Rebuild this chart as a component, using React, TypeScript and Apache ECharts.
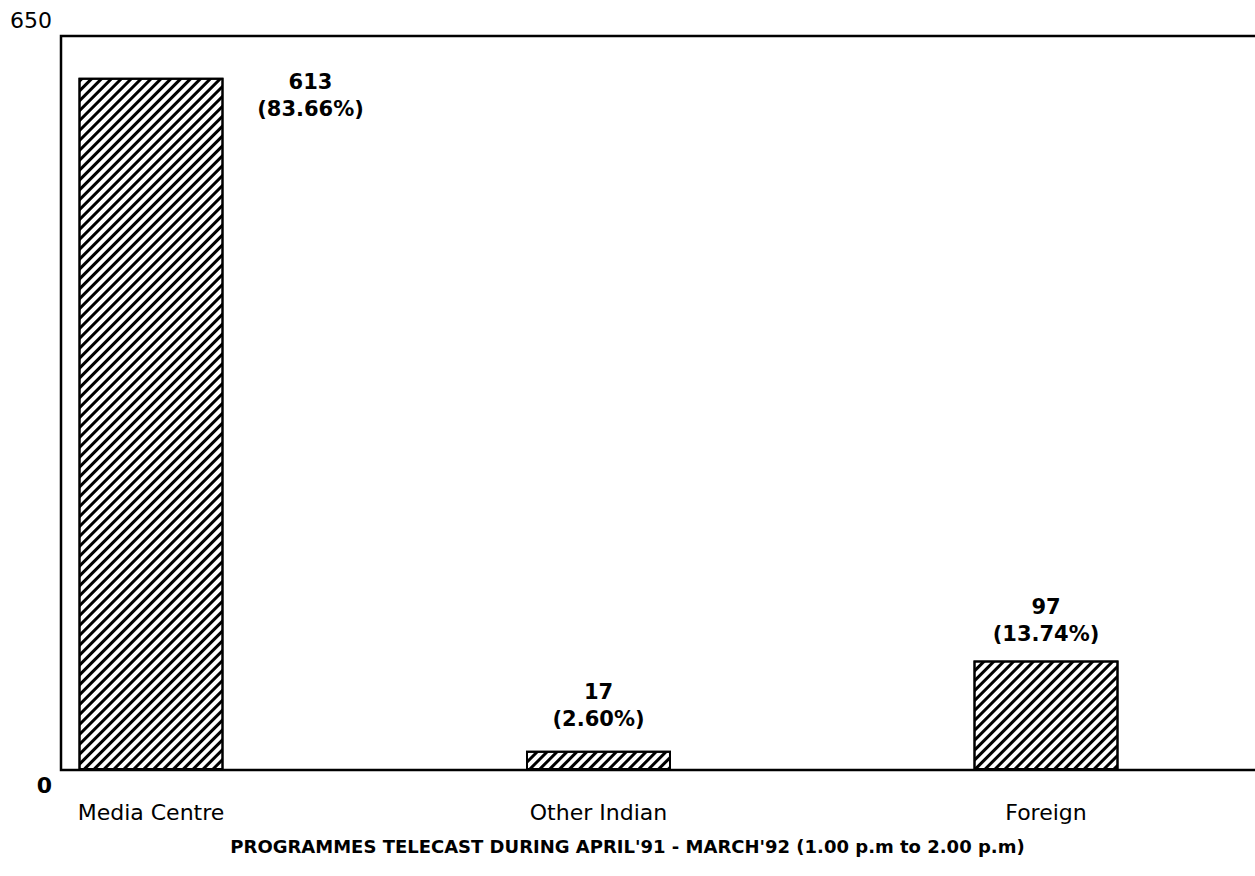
import React, { useEffect, useRef } from "react";
import * as echarts from "echarts";

const categories = ["Media Centre", "Other Indian", "Foreign"];
const values = [613, 17, 97];
const percents = ["83.66%", "2.60%", "13.74%"];
const yTicks = [0, 650];
const titleText = "PROGRAMMES TELECAST DURING APRIL'91 - MARCH'92 (1.00 p.m to 2.00 p.m)";

const FONT = "DejaVu Sans";

export default function App() {
  const ref = useRef<HTMLDivElement>(null);
  useEffect(() => {
    document.body.style.margin = "0";
    const chart = echarts.init(ref.current!, null, { renderer: "svg" });
    const hatch = {
      color: "#000",
      backgroundColor: "#fff",
      symbol: "rect",
      symbolSize: 1,
      dashArrayX: [1, 0],
      dashArrayY: [2.4, 3.2],
      rotation: -Math.PI / 4,
    };
    const labelDefs = [
      { position: [232, 18], align: "center", verticalAlign: "middle" },
      { position: "top", distance: 18 },
      { position: "top", distance: 13 },
    ];
    const option: any = {
      animation: false,
      backgroundColor: "#fff",
      title: {
        text: titleText,
        left: "center",
        top: 832,
        textStyle: { fontFamily: FONT, fontWeight: "bold", fontSize: 18, color: "#000" },
      },
      grid: [
        { left: 61, top: 36, right: -6, bottom: 106, show: true, borderColor: "#000", borderWidth: 2.5, backgroundColor: "transparent", outerBoundsMode: "none", containLabel: false },
        { left: 151, top: 36, right: 209, bottom: 106, outerBoundsMode: "none", containLabel: false },
      ],
      xAxis: [
        { gridIndex: 0, type: "value", min: 0, max: 1, show: false },
        {
          gridIndex: 1,
          type: "category",
          data: categories,
          boundaryGap: false,
          axisLine: { show: false },
          axisTick: { show: false },
          axisLabel: { margin: 31, fontFamily: FONT, fontSize: 22, color: "#000" },
        },
      ],
      yAxis: [
        {
          gridIndex: 0,
          type: "value",
          position: "left",
          min: yTicks[0],
          max: yTicks[1],
          interval: yTicks[1],
          axisLine: { show: false },
          axisTick: { show: false },
          splitLine: { show: false },
          axisLabel: {
            formatter: (v: number) => (v === yTicks[1] ? String(v) : ""),
            verticalAlign: "bottom",
            padding: [0, 0, 5, 0],
            margin: 9,
            fontFamily: FONT,
            fontSize: 22,
            color: "#000",
          },
        },
        {
          gridIndex: 0,
          type: "value",
          position: "left",
          min: yTicks[0],
          max: yTicks[1],
          interval: yTicks[1],
          axisLine: { show: false },
          axisTick: { show: false },
          splitLine: { show: false },
          axisLabel: {
            formatter: (v: number) => (v === yTicks[0] ? String(v) : ""),
            verticalAlign: "top",
            padding: [4, 0, 0, 0],
            margin: 9,
            fontFamily: FONT,
            fontWeight: "bold",
            fontSize: 22,
            color: "#000",
          },
        },
        { gridIndex: 1, type: "value", min: yTicks[0], max: yTicks[1], show: false },
      ],
      series: [
        {
          type: "bar",
          xAxisIndex: 1,
          yAxisIndex: 2,
          barWidth: 145,
          clip: false,
          itemStyle: { color: "#fff", borderColor: "#000", borderWidth: 2, decal: hatch },
          label: {
            show: true,
            fontFamily: FONT,
            fontWeight: "bold",
            fontSize: 21,
            lineHeight: 27,
            color: "#000",
            align: "center",
          },
          data: values.map((v, i) => ({
            value: v,
            label: {
              ...labelDefs[i],
              formatter: () => `${v}\n(${percents[i]})`,
            },
          })),
        },
      ],
    };
    chart.setOption(option);
    return () => chart.dispose();
  }, []);
  return <div ref={ref} style={{ width: 1255, height: 876 }} />;
}
